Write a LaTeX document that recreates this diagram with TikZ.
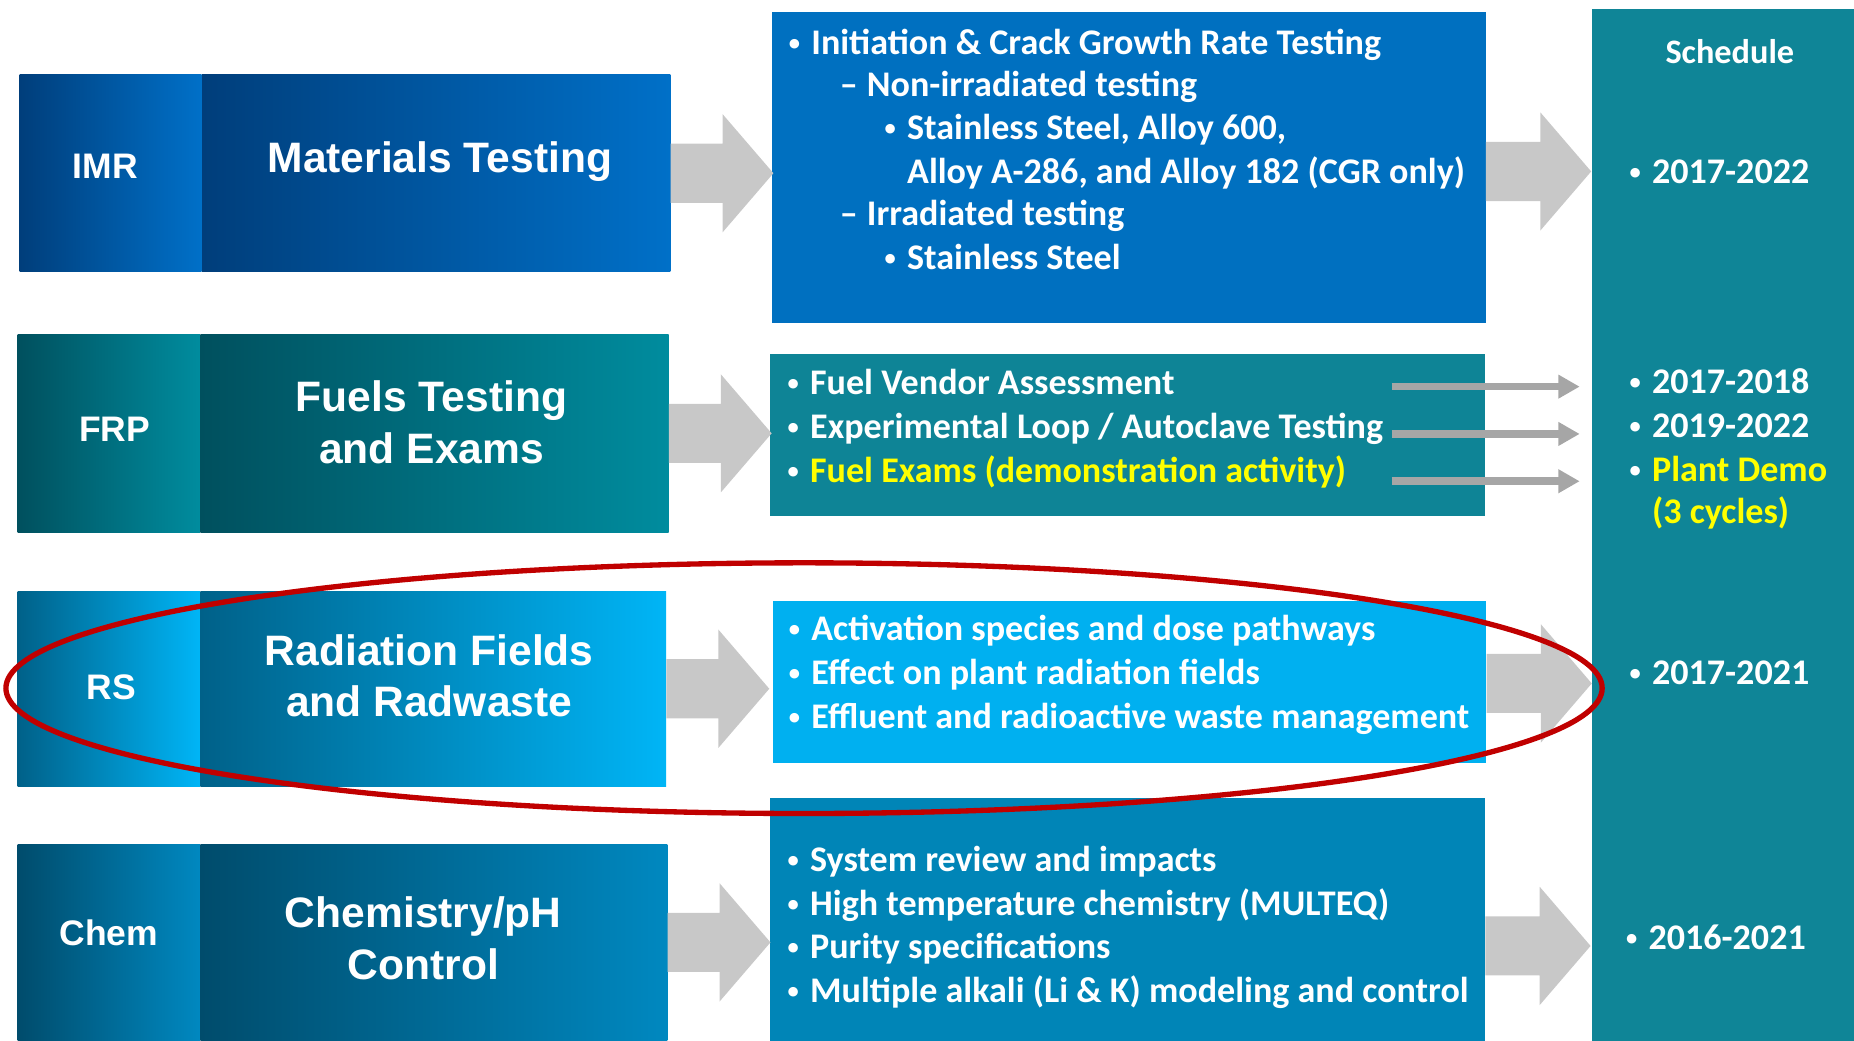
\documentclass[tikz,border=0pt]{standalone}
\usepackage{fontspec}
\setmainfont{Carlito}
\newfontfamily\headfont{Liberation Sans}
\usetikzlibrary{positioning,arrows.meta}

\definecolor{imrdark}{HTML}{003E7B}
\definecolor{imrlight}{HTML}{0070C8}
\definecolor{frpdark}{HTML}{00505E}
\definecolor{frplight}{HTML}{008C9E}
\definecolor{rsdark}{HTML}{006189}
\definecolor{rslight}{HTML}{00B5F6}
\definecolor{chemdark}{HTML}{004C6C}
\definecolor{chemlight}{HTML}{0088C0}
\definecolor{listblue}{HTML}{0070C0}
\definecolor{listteal}{HTML}{0E8496}
\definecolor{listsky}{HTML}{00B0F0}
\definecolor{listsea}{HTML}{0085B7}
\definecolor{schedteal}{HTML}{0F8597}
\definecolor{arrowgray}{HTML}{C8C8C8}
\definecolor{linegray}{HTML}{A6A6A6}
\definecolor{ringred}{HTML}{C00000}
\definecolor{hiyellow}{HTML}{FFFF00}

\newcommand{\bulmark}{\hspace{-3pt}\raisebox{3.5pt}{\fontsize{19}{19}\selectfont •}}
\newcommand{\bul}[1]{\makebox[16pt][l]{\bulmark}#1}
\newcommand{\dsh}[1]{\makebox[23pt][l]{–}#1}

\begin{document}
\begin{tikzpicture}[x=1pt, y=-1pt,
        tagbox/.style={inner sep=0pt, minimum width=154, minimum height=167},
        headbox/.style={inner sep=0pt, minimum width=396, minimum height=167},
        listbox/.style={inner sep=0pt, minimum width=604},
        tagtxt/.style={anchor=base, inner sep=0pt, text=white, font=\headfont\bfseries\fontsize{30}{36}\selectfont},
        headtxt/.style={anchor=base, inner sep=0pt, text=white, font=\headfont\bfseries\fontsize{36}{42}\selectfont},
        bodytxt/.style={anchor=base west, inner sep=0pt, text=white, font=\bfseries\fontsize{30.5}{36}\selectfont},
        bigarrow/.style={fill=arrowgray},
        thinarrow/.style={draw=linegray, line width=6.5pt, -{Triangle[length=18pt,width=19pt]}},
        ring/.style={draw=ringred, line width=4.5pt}]
        \useasboundingbox (0,0) rectangle (1568,880);

        % Boxes left
        \node[tagbox, left color=imrdark, right color=imrlight] (imr) at (93.5,146.5) {};
        \node[headbox, left color=imrdark, right color=imrlight, right=0pt of imr] (mat) {};
        \node[tagbox, left color=frpdark, right color=frplight] (frp) at (92,366.5) {};
        \node[headbox, left color=frpdark, right color=frplight, right=0pt of frp] (fue) {};
        \node[tagbox, minimum height=165, left color=rsdark, right color=rslight] (rs) at (92,582.5) {};
        \node[headbox, minimum height=165, minimum width=394, left color=rsdark, right color=rslight, right=0pt of rs] (rad) {};
        \node[tagbox, minimum height=166, left color=chemdark, right color=chemlight] (chm) at (92,797) {};
        \node[headbox, minimum height=166, minimum width=395, left color=chemdark, right color=chemlight, right=0pt of chm] (che) {};

        \node[tagtxt] (imr-t) at (89,151) {IMR};
        \node[tagtxt] (frp-t) at (97,373) {FRP};
        \node[tagtxt] (rs-t) at (94,592) {RS};
        \node[tagtxt] (chm-t) at (92,800) {Chem};
        \node[headtxt] (mat-t) at (372,146) {Materials Testing};
        \node[headtxt] (fue-t1) at (365,348) {Fuels Testing};
        \node[headtxt] (fue-t2) at (365,392) {and Exams};
        \node[headtxt] (rad-t1) at (363,563) {Radiation Fields};
        \node[headtxt] (rad-t2) at (363,606) {and Radwaste};
        \node[headtxt] (che-t1) at (358,784) {Chemistry/pH};
        \node[headtxt] (che-t2) at (358,828) {Control};

        % Boxes middle
        \node[listbox, fill=listblue, minimum height=263] (c1) at (954.5,141.5) {};
        \node[listbox, fill=listteal, minimum height=137, minimum width=605] (c2) at (953.5,367.5) {};
        \node[listbox, fill=listsky, minimum height=137, minimum width=603] (c3) at (955.5,576.5) {};
        \node[listbox, fill=listsea, minimum height=205, minimum width=605] (c4) at (953.5,777.5) {};

        % Schedule
        \node[inner sep=0pt, fill=schedteal, minimum width=222, minimum height=872] (sched) at (1457,444) {};

        % Arrows
        \foreach \a in {mat, fue, rad, che}
            \fill[bigarrow] (\a.east) ++(0,-25) -- ++(44,0) -- ++(0,-25) -- ++(43,50) -- ++(-43,50) -- ++(0,-25) -- ++(-44,0) -- cycle;
        \foreach \n/\y in {c1/145, c3/578, c4/800}
            \fill[bigarrow] (\n.east |- 0,\y) ++(0,-25) -- ++(46,0) -- ++(0,-25) -- ++(43,50) -- ++(-43,50) -- ++(0,-25) -- ++(-46,0) -- cycle;
        \foreach \y [count=\i] in {327,367,407} {
            \coordinate (fa\i) at (1177,\y);
            \coordinate (fb\i) at (1336,\y);
            \draw[thinarrow] (fa\i) -- (fb\i);
        }

        % Text middle
        \node[bodytxt] (c1-l1) at (670,46) {\bul{Initiation \& Crack Growth Rate Testing}};
        \node[bodytxt] (c1-l2) at (710,82) {\dsh{Non-irradiated testing}};
        \node[bodytxt] (c1-l3) at (751,118) {\bul{Stainless Steel, Alloy 600,}};
        \node[bodytxt] (c1-l4) at (767,155) {Alloy A-286, and Alloy 182 (CGR only)};
        \node[bodytxt] (c1-l5) at (710,191) {\dsh{Irradiated testing}};
        \node[bodytxt] (c1-l6) at (751,228) {\bul{Stainless Steel}};

        \node[bodytxt] (c2-l1) at (669,334) {\bul{Fuel Vendor Assessment}};
        \node[bodytxt] (c2-l2) at (669,371) {\bul{Experimental Loop / Autoclave Testing}};
        \node[bodytxt] (c2-l3) at (669,408) {\bul{\textcolor{hiyellow}{Fuel Exams (demonstration activity)}}};

        \foreach \t [count=\i] in {Activation species and dose pathways, Effect on plant radiation fields, Effluent and radioactive waste management}
            \node[bodytxt] (c3-l\i) at (670,505+37*\i) {\bul{\t}};

        \foreach \t [count=\i] in {System review and impacts, High temperature chemistry (MULTEQ), Purity specifications, Multiple alkali (Li \& K) modeling and control}
            \node[bodytxt] (c4-l\i) at (669,700+37*\i) {\bul{\t}};

        % Text schedule
        \node[anchor=base, inner sep=0pt, text=white, font=\bfseries\fontsize{29}{36}\selectfont] (sched-t) at (1463,54) {Schedule};
        \node[bodytxt] (s1) at (1381,155) {\bul{2017-2022}};
        \node[bodytxt] (s2) at (1381,333) {\bul{2017-2018}};
        \node[bodytxt] (s3) at (1381,370) {\bul{2019-2022}};
        \node[bodytxt] (s4) at (1381,407) {\bul{\textcolor{hiyellow}{Plant Demo}}};
        \node[bodytxt, text=hiyellow] (s5) at (1397,443) {(3 cycles)};
        \node[bodytxt] (s6) at (1381,579) {\bul{2017-2021}};
        \node[bodytxt] (s7) at (1378,803) {\bul{2016-2021}};

        % Ring
        \draw[ring] (680,582) ellipse [x radius=675, y radius=106];
    \end{tikzpicture}
\end{document}
